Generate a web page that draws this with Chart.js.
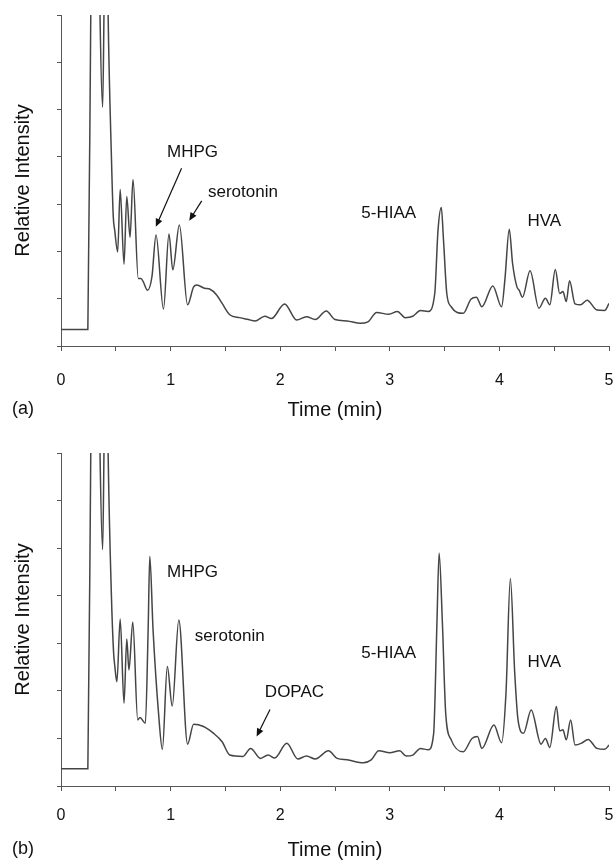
<!DOCTYPE html>
<html>
<head>
<meta charset="utf-8">
<script src="https://cdn.jsdelivr.net/npm/chart.js@4.4.0/dist/chart.umd.min.js"></script>
<style>
  html, body { margin: 0; padding: 0; background: #fff; }
  .panel { position: relative; width: 616px; height: 430px; }
</style>
</head>
<body>
<div class="panel"><canvas id="chartA"></canvas></div>
<div class="panel"><canvas id="chartB"></canvas></div>
<script>
// x ticks (minutes) and y ticks (relative units)
const xTicks = [0, 0.5, 1, 1.5, 2, 2.5, 3, 3.5, 4, 4.5, 5]
const yTicks = [0, 1, 2, 3, 4, 5, 6, 7]

// panel (a) trace (values above 7 run off the top)
const timeA = [0, 0.245, 0.275, 0.32, 0.356, 0.38, 0.392, 0.41, 0.43, 0.46, 0.477, 0.49, 0.517, 0.54, 0.575, 0.60, 0.63, 0.657,
  0.705, 0.73, 0.75, 0.79, 0.83, 0.867, 0.935, 0.985, 1.02, 1.08, 1.155, 1.21, 1.24, 1.31, 1.36, 1.42, 1.47, 1.54, 1.63,
  1.71, 1.77, 1.86, 1.92, 2.04, 2.15, 2.24, 2.32, 2.42, 2.50, 2.61, 2.73, 2.80, 2.88, 2.99, 3.07, 3.14, 3.21, 3.28, 3.35,
  3.41, 3.44, 3.47, 3.49, 3.52, 3.56, 3.67, 3.74, 3.79, 3.84, 3.94, 4.02, 4.05, 4.09, 4.12, 4.16, 4.18, 4.21, 4.28, 4.36,
  4.42, 4.46, 4.51, 4.55, 4.58, 4.61, 4.64, 4.69, 4.74, 4.80, 4.89, 4.96, 5.0]
const intensityA = [0.35, 0.35, 8, 14, 7, 5.05, 7, 11, 7, 4.0, 2.73, 2.45, 1.99, 3.31, 1.73, 3.16, 2.3, 3.52,
  1.43, 1.43, 1.36, 1.18, 1.47, 2.35, 0.78, 2.37, 1.61, 2.56, 0.87, 1.25, 1.29, 1.22, 1.2, 1.08, 0.9, 0.66, 0.6,
  0.56, 0.53, 0.63, 0.58, 0.89, 0.55, 0.62, 0.56, 0.74, 0.56, 0.53, 0.48, 0.51, 0.71, 0.67, 0.73, 0.6, 0.63, 0.75, 0.73,
  1.11, 2.45, 2.93, 2.24, 1.11, 0.83, 0.69, 0.99, 1.03, 0.83, 1.27, 0.83, 1.4, 2.47, 1.75, 1.25, 1.18, 1.03, 1.59, 0.8,
  1.01, 0.87, 1.62, 1.11, 1.15, 0.94, 1.38, 0.89, 0.87, 0.97, 0.76, 0.75, 0.9]

// panel (b) trace
const timeB = [0, 0.245, 0.275, 0.32, 0.356, 0.38, 0.392, 0.41, 0.43, 0.46, 0.48, 0.49, 0.51, 0.54, 0.575, 0.60, 0.62, 0.655,
  0.70, 0.72, 0.77, 0.795, 0.81, 0.84, 0.89, 0.925, 0.97, 1.015, 1.075, 1.155, 1.21, 1.30, 1.39, 1.47, 1.54, 1.66,
  1.73, 1.82, 1.89, 1.95, 2.06, 2.16, 2.24, 2.32, 2.44, 2.52, 2.61, 2.76, 2.83, 2.90, 3.0, 3.09, 3.15, 3.21, 3.28, 3.35,
  3.40, 3.43, 3.45, 3.48, 3.51, 3.56, 3.67, 3.75, 3.80, 3.84, 3.95, 4.02, 4.06, 4.10, 4.14, 4.17, 4.22, 4.29, 4.38,
  4.42, 4.46, 4.52, 4.55, 4.58, 4.61, 4.65, 4.69, 4.75, 4.81, 4.89, 4.96, 5.0]
const intensityB = [0.36, 0.36, 8, 14, 7, 4.97, 7, 11, 7, 4.0, 2.8, 2.54, 2.19, 3.51, 1.74, 3.09, 2.44, 3.45,
  1.39, 1.44, 1.32, 3.28, 4.83, 3.28, 1.53, 0.77, 2.51, 1.68, 3.49, 0.88, 1.3, 1.25, 1.11, 0.93, 0.65, 0.62,
  0.79, 0.58, 0.65, 0.59, 0.9, 0.57, 0.63, 0.57, 0.74, 0.58, 0.55, 0.49, 0.55, 0.74, 0.7, 0.74, 0.63, 0.65, 0.79, 0.76,
  1.1, 3.42, 4.9, 3.42, 1.53, 0.97, 0.72, 1.0, 1.04, 0.79, 1.28, 0.91, 1.95, 4.36, 2.37, 1.39, 1.11, 1.6, 0.88,
  1.0, 0.81, 1.67, 1.16, 1.18, 0.97, 1.39, 0.86, 0.9, 0.98, 0.79, 0.77, 0.86]

// peak labels and arrows, in data units
const peakLabelsA = [
  { text: 'MHPG', x: 1.2, y: 4.1 },
  { text: 'serotonin', x: 1.66, y: 3.26 },
  { text: '5-HIAA', x: 2.99, y: 2.8 },
  { text: 'HVA', x: 4.41, y: 2.63 }
]
const arrowsA = [
  { from: [1.10, 3.76], to: [0.865, 2.52] },
  { from: [1.284, 3.07], to: [1.17, 2.65] }
]
const peakLabelsB = [
  { text: 'MHPG', x: 1.2, y: 4.5 },
  { text: 'serotonin', x: 1.54, y: 3.15 },
  { text: 'DOPAC', x: 2.13, y: 1.96 },
  { text: '5-HIAA', x: 2.99, y: 2.79 },
  { text: 'HVA', x: 4.41, y: 2.61 }
]
const arrowsB = [
  { from: [1.907, 1.61], to: [1.785, 1.04] }
]

const FONT = '"Liberation Sans", Arial, Helvetica, sans-serif'
const INK = '#111'
const AXIS = '#555'

// draws the peak names, arrows and the (a)/(b) tag
const peakLabelPlugin = {
  id: 'peakLabels',
  afterDatasetsDraw(chart, args, opts) {
    const { ctx, scales: { x, y } } = chart
    ctx.save()
    ctx.fillStyle = INK
    ctx.font = `17px ${FONT}`
    ctx.textAlign = 'center'
    ctx.textBaseline = 'middle'
    opts.labels.forEach(l => {
      ctx.fillText(l.text, x.getPixelForValue(l.x), y.getPixelForValue(l.y))
    })

    ctx.strokeStyle = INK
    ctx.lineWidth = 1.2
    opts.arrows.forEach(a => {
      const x0 = x.getPixelForValue(a.from[0]), y0 = y.getPixelForValue(a.from[1])
      const x1 = x.getPixelForValue(a.to[0]), y1 = y.getPixelForValue(a.to[1])
      const ang = Math.atan2(y1 - y0, x1 - x0)
      const len = 8, half = 3.5
      ctx.beginPath()
      ctx.moveTo(x0, y0)
      ctx.lineTo(x1 - Math.cos(ang) * len * 0.8, y1 - Math.sin(ang) * len * 0.8)
      ctx.stroke()
      ctx.beginPath()
      ctx.moveTo(x1, y1)
      ctx.lineTo(x1 - Math.cos(ang) * len - Math.sin(ang) * half, y1 - Math.sin(ang) * len + Math.cos(ang) * half)
      ctx.lineTo(x1 - Math.cos(ang) * len + Math.sin(ang) * half, y1 - Math.sin(ang) * len - Math.cos(ang) * half)
      ctx.closePath()
      ctx.fill()
    })

    ctx.font = `18px ${FONT}`
    ctx.textAlign = 'left'
    ctx.fillText(opts.tag, 12, x.bottom - 11)
    ctx.restore()
  }
}

function renderPanel(canvasId, times, values, labels, arrows, tag, topPad, bottomPad, labelPad) {
  const ctx = document.getElementById(canvasId)
  const points = times.map((t, i) => ({ x: t, y: values[i] }))

  return new Chart(ctx.getContext('2d'), {
    type: 'line',
    data: {
      datasets: [{
        data: points,
        borderColor: '#454545',
        borderWidth: 1.5,
        pointRadius: 0,
        fill: false,
        cubicInterpolationMode: 'monotone'
      }]
    },
    options: {
      responsive: true,
      maintainAspectRatio: false,
      animation: false,
      layout: { padding: { top: topPad, left: 13, right: 7, bottom: bottomPad } },
      plugins: {
        legend: { display: false },
        title: { display: false },
        tooltip: { enabled: false },
        peakLabels: { labels: labels, arrows: arrows, tag: tag }
      },
      scales: {
        x: {
          type: 'linear',
          min: xTicks[0],
          max: xTicks[xTicks.length - 1],
          afterBuildTicks: scale => { scale.ticks = xTicks.map(v => ({ value: v })) },
          afterFit: scale => {
            scale.height = 74
            // keep the tick label padding from shrinking the plot sideways
            scale.paddingLeft = 0
            scale.paddingRight = 0
          },
          border: { display: true, color: AXIS, width: 1 },
          grid: { drawOnChartArea: false, drawTicks: true, tickLength: 5, color: AXIS },
          ticks: {
            padding: labelPad,
            color: INK,
            font: { family: FONT, size: 16 },
            maxRotation: 0,
            autoSkip: false,
            callback: v => Number.isInteger(v) ? String(v) : ''
          },
          title: {
            display: true,
            text: 'Time (min)',
            color: INK,
            padding: 0,
            font: { family: FONT, size: 20, lineHeight: 1 }
          }
        },
        y: {
          type: 'linear',
          min: yTicks[0],
          max: yTicks[yTicks.length - 1],
          afterBuildTicks: scale => { scale.ticks = yTicks.map(v => ({ value: v })) },
          afterFit: scale => { scale.width = 48 },
          border: { display: true, color: AXIS, width: 1 },
          grid: { drawOnChartArea: false, drawTicks: true, tickLength: 4, color: AXIS },
          ticks: { callback: () => '' },
          title: {
            display: true,
            text: 'Relative Intensity',
            color: INK,
            padding: 0,
            font: { family: FONT, size: 20, lineHeight: 1 }
          }
        }
      }
    },
    plugins: [peakLabelPlugin]
  })
}

renderPanel('chartA', timeA, intensityA, peakLabelsA, arrowsA, '(a)', 15, 10, 20)
renderPanel('chartB', timeB, intensityB, peakLabelsB, arrowsB, '(b)', 23, 0, 15)
</script>
</body>
</html>
